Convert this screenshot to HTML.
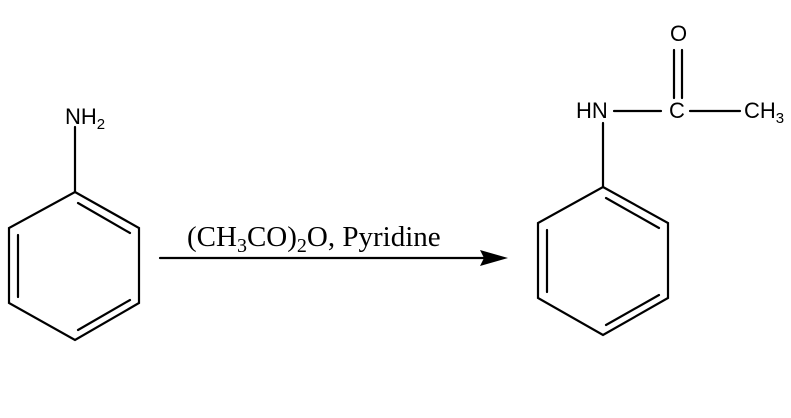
<!DOCTYPE html>
<html><head><meta charset="utf-8"><style>html,body{margin:0;padding:0;background:#fff;width:791px;height:418px;overflow:hidden}</style></head>
<body>
<svg width="791" height="418" xmlns="http://www.w3.org/2000/svg" style="display:block">
<g stroke="#000" stroke-width="2.2" fill="none" stroke-linecap="round">
<polygon points="75,192 139,228 139,303 75,340 9,303 9,228"/>
<line x1="78" y1="203" x2="130" y2="233"/>
<line x1="18" y1="235" x2="18" y2="297"/>
<line x1="78" y1="330" x2="130" y2="300"/>
<line x1="75" y1="127" x2="75" y2="192"/>
<polygon points="603,187 668,223 668,298 603,335 538,298 538,223"/>
<line x1="606" y1="198" x2="659" y2="228"/>
<line x1="547" y1="230" x2="547" y2="292"/>
<line x1="606" y1="325" x2="659" y2="295"/>
<line x1="603" y1="123" x2="603" y2="187"/>
<line x1="614" y1="111" x2="661" y2="111"/>
<line x1="690" y1="111" x2="740" y2="111"/>
<line x1="674" y1="50" x2="674" y2="98"/>
<line x1="682" y1="50" x2="682" y2="98"/>
<line x1="160" y1="258" x2="485" y2="258"/>
</g>
<polygon points="508,258 480,250 484,258 480,266" fill="#000"/>
<g font-family="Liberation Sans, sans-serif" font-size="22" fill="#000">
<text x="65" y="124">NH<tspan font-size="15" dy="5">2</tspan></text>
<text x="576" y="118">HN</text>
<text x="669" y="118">C</text>
<text x="670" y="41">O</text>
<text x="744" y="118">CH<tspan font-size="15" dy="5">3</tspan></text>
</g>
<text x="187" y="246" font-family="Liberation Serif, serif" font-size="29" fill="#000">(CH<tspan font-size="20" dy="6">3</tspan><tspan dy="-6">CO)</tspan><tspan font-size="20" dy="6">2</tspan><tspan dy="-6">O, Pyridine</tspan></text>
</svg>
</body></html>
